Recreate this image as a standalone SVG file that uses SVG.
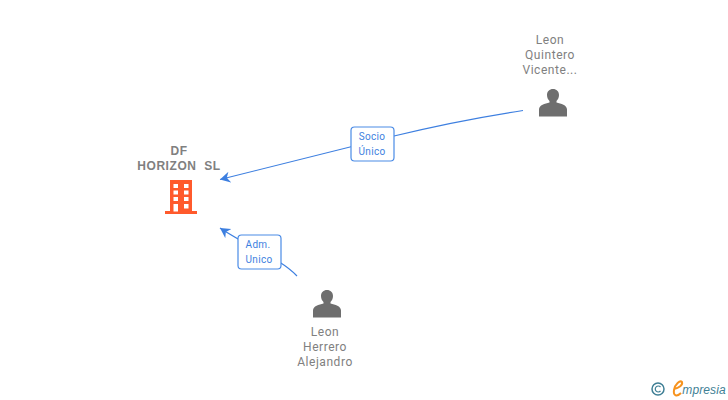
<svg xmlns="http://www.w3.org/2000/svg" width="728" height="400" viewBox="0 0 728 400">
<style>
text{font-family:Roboto,"Liberation Sans",sans-serif;text-anchor:middle}
.n{font-size:12px;fill:#808080;letter-spacing:.55px}
.b{font-family:"Liberation Sans",sans-serif;font-size:12px;font-weight:700;fill:#808080;letter-spacing:.55px;white-space:pre}
.l{font-size:10px;fill:#3d7fe0;letter-spacing:.3px}
.c{fill:none;stroke:#3d7fe0;stroke-width:1.2}
.box{fill:#fff;stroke:#4a8be6;stroke-width:1.2}
.p{fill:#6e6e6e}
</style>
<defs>
<marker id="a" markerWidth="12" markerHeight="12" refX="10" refY="5.500" orient="auto" markerUnits="userSpaceOnUse"><path d="M10 5.500L0 0L3 5.500L0 11Z" fill="#3d7fe0"/></marker>
<path id="person" d="M0-15C3.500-15 6-12.500 6-9C6-6.500 5-4.500 3.500-3L3.500-1.500C8-.5 14 1 14 5.500L14 12.500L-14 12.500L-14 5.500C-14 1-8-.5-3.500-1.500L-3.500-3C-5-4.500-6-6.500-6-9C-6-12.500-3.500-15 0-15Z"/>
</defs>
<g id="connectors">
<path class="c" marker-end="url(#a)" d="M523 110.500C480 117 435 126 394 136L220 179.500"/>
<path class="c" marker-end="url(#a)" d="M297 276C280 258 250 248 220 228"/>
</g>
<g id="edge-socio"><rect class="box" x="351" y="127" width="43" height="34" rx="3.500"/><text class="l" x="372" y="140">Socio</text><text class="l" x="372" y="155">Único</text></g>
<g id="edge-adm"><rect class="box" x="238" y="235" width="43" height="34" rx="3.500"/><text class="l" x="258" y="248">Adm.</text><text class="l" x="259" y="263">Unico</text></g>
<g id="node-df">
<text class="b" x="179" y="155">DF</text><text class="b" x="179" y="170">HORIZON  SL</text>
<path fill="#ff5a2c" d="M170 180H192V211H197V214H165V211H170Z"/>
<path fill="#fff" d="M173.500 184H178V188H173.500ZM184 184H188.500V188H184ZM173.500 190.500H178V194.500H173.500ZM184 190.500H188.500V194.500H184ZM173.500 197H178V201H173.500ZM184 197H188.500V201H184ZM173.500 204H178V211.500H173.500ZM184 204H188.500V208.500H184Z"/>
</g>
<g id="node-quintero">
<text class="n" x="550" y="44">Leon</text><text class="n" x="550" y="59">Quintero</text><text class="n" x="550" y="74">Vicente...</text>
<use href="#person" class="p" x="553" y="104"/>
</g>
<g id="node-herrero">
<use href="#person" class="p" x="327" y="305"/>
<text class="n" x="325" y="336">Leon</text><text class="n" x="325" y="351">Herrero</text><text class="n" x="325" y="366">Alejandro</text>
</g>
<g id="logo">
<circle cx="658" cy="389" r="6" fill="none" stroke="#3f7f95" stroke-width="1.500"/>
<path d="M660.500 387a3 3 0 1 0 0 4" fill="none" stroke="#3f7f95" stroke-width="1.200"/>
<path d="M674 389C679 388 683 385 682 382C680 380 675 384 674 390C673 396 677 397 681 393" fill="none" stroke="#f7931e" stroke-width="2"/>
<text x="704" y="394" style="font-family:'Liberation Sans',sans-serif;font-style:italic;font-size:12px;fill:#3f7f95;letter-spacing:.1px">mpresia</text>
</g>
</svg>
